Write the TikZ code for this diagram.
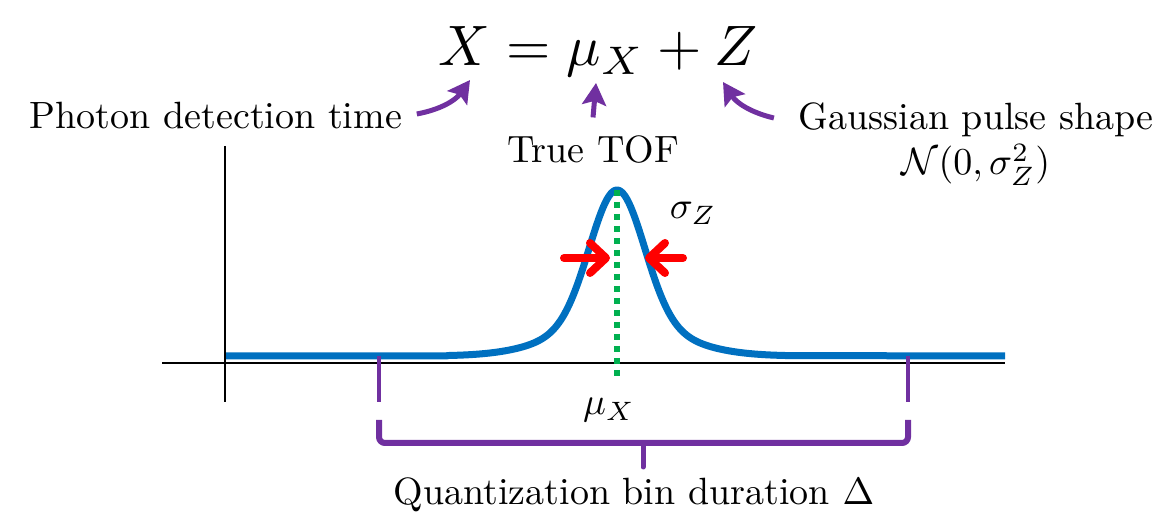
\documentclass[tikz,border=0pt]{standalone}
\usepackage{amsmath}
\usepackage{amssymb}
\usepackage{tikz}
\usepackage{xcolor}
\usetikzlibrary{arrows.meta}

\definecolor{pulseblue}{RGB}{0,112,192}
\definecolor{tofgreen}{RGB}{0,176,80}
\definecolor{notepurple}{RGB}{112,48,160}

\tikzset{
  txt/.style={inner sep=0pt, font=\normalsize, scale=1.9},
  callout/.style={notepurple, line width=2.5pt, -{Stealth[length=11pt,width=12pt,inset=2pt]}},
  squeeze/.style={red, line width=4pt, line cap=round, -{Straight Barb[length=8pt,width=15pt,round]}},
  pulse/.style={pulseblue, line width=3.5pt, line join=round},
  tofline/.style={tofgreen, line width=3pt, dash pattern=on 3pt off 3pt},
  axis/.style={black, line width=1.3pt},
  brace/.style={notepurple, line width=3pt, rounded corners=3pt},
}

\begin{document}
\begin{tikzpicture}[x=0.5pt,y=-0.5pt]
\useasboundingbox (0,0) rectangle (1156,522);

% labels
\node[txt, scale=1.5] (eq) at (598,52) {$X=\mu_X+Z$};
\node[txt] (photon) at (216,116) {Photon detection time};
\node[txt] (tof) at (593,150) {True TOF};
\node[txt, align=center] (gauss) at (976,144) {Gaussian pulse shape\\ $\mathcal{N}(0,\sigma_Z^2)$};
\node[txt] (sigma) at (693,213) {$\sigma_Z$};
\node[txt] (mu) at (609,410) {$\mu_X$};
\node[txt] (bin) at (634,495) {Quantization bin duration $\Delta$};

% arrow tips under the equation
\coordinate (tipX) at (470,80);
\coordinate (tipmu) at (596,83);
\coordinate (tipZ) at (723,82);

\draw[callout] ([xshift=7pt,yshift=1pt]photon.east) to[bend right=22] (tipX);
\draw[callout] ([yshift=9pt]tof.north) -- (tipmu);
\draw[callout] ([xshift=-12pt,yshift=13pt]gauss.west) to[bend left=22] (tipZ);

% axes
\draw[axis] (162,363) -- (1005,363);
\draw[axis] (225,146) -- (225,402);

% pulse
\draw[pulse] (226,356) -- (447,356)
  -- plot[domain=-170:170, samples=171] ({617+\x}, {356-166*(0.8*exp(-(\x/27)^2/2)+0.2*exp(-(\x/58)^2/2))})
  -- (1005,356);

% true TOF
\coordinate (peak) at (617,190);
\draw[tofline] (peak) -- (617,376);

% width arrows
\coordinate (sideL) at (610,258);
\coordinate (sideR) at (645,258);
\draw[squeeze] ([xshift=-23pt]sideL) -- (sideL);
\draw[squeeze] ([xshift=19pt]sideR) -- (sideR);

% bin bracket
\draw[notepurple, line width=2pt] (379,356) -- (379,402);
\draw[notepurple, line width=2pt] (908,356) -- (908,402);
\draw[brace] (379,420) -- (379,443) -- (908,443) -- (908,420);
\draw[notepurple, line width=2.5pt, line cap=round] (643,443) -- (643,467);
\end{tikzpicture}
\end{document}
